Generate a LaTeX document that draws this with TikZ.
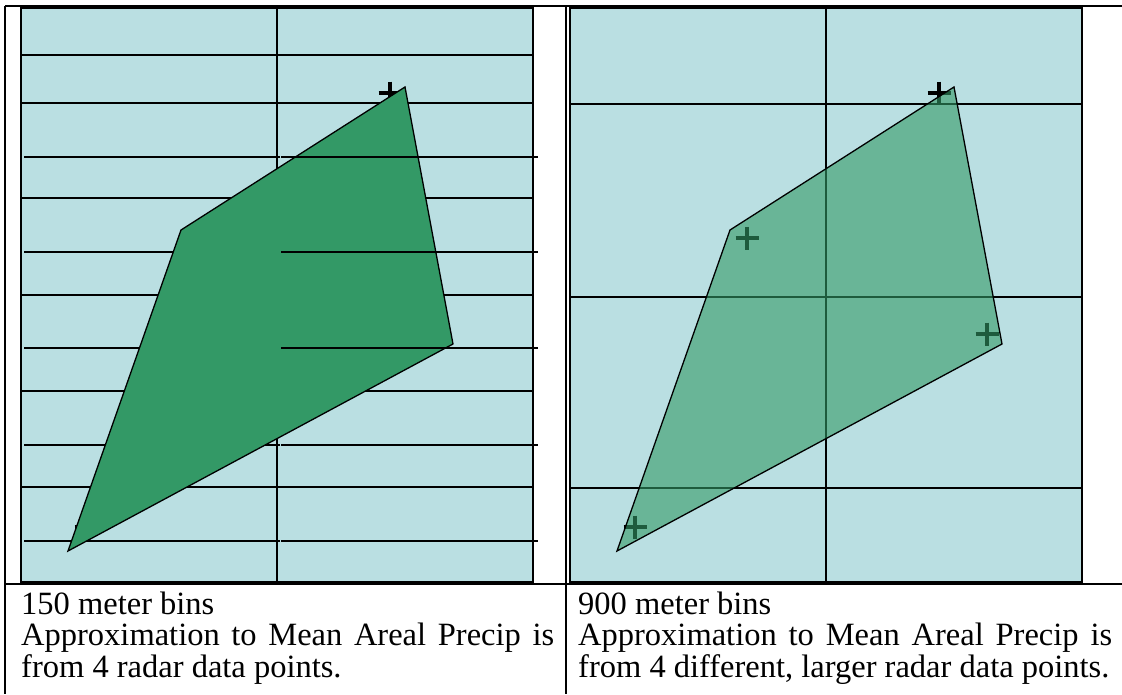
\documentclass[tikz,border=0pt]{standalone}
\usepackage{fontspec}
\setmainfont{Liberation Serif}
\usepackage{tikz}
\usetikzlibrary{positioning}
\definecolor{binblue}{RGB}{186,223,226}
\definecolor{areagreen}{RGB}{51,153,102}

\begin{document}
\begin{tikzpicture}[x=1pt, y=-1pt,
    frame/.style={line width=2pt},
    panel/.style={draw, line width=1.6pt, fill=binblue},
    bin/.style={line width=1.4pt},
    area/.style={draw, line width=1.3pt, fill=areagreen},
    gauge/.style={line width=3.5pt},
    caption/.style={anchor=base west, inner sep=0pt, font=\fontsize{32.5}{31}\selectfont}
]
\useasboundingbox (0,0) rectangle (1122,694);

% Table frame
\draw[frame] (5,6) -- (1122,6);
\draw[frame] (5,584) -- (1122,584);
\draw[frame] (5,6) -- (5,694);
\draw[frame] (566,6) -- (566,694);

% 150 meter bins
\draw[panel] (21,8) rectangle (533,582);
\draw[bin] (277,8) -- (277,582);
\foreach \y in {55,103,198,295,391,487} \draw[bin] (21,\y) -- (533,\y);
\foreach \y in {157,252,348,445,541} \draw[bin] (24,\y) -- (280,\y);
\foreach \x/\y in {390/93,198/238,438/334,86/527}
  \draw[gauge] (\x-11.5,\y) -- (\x+11.5,\y) (\x,\y-11.5) -- (\x,\y+11.5);
\coordinate (fa) at (405,87);
\coordinate (fb) at (453,344);
\coordinate (fc) at (68,551);
\coordinate (fd) at (181,230);
\draw[area] (fa) -- (fb) -- (fc) -- (fd) -- cycle;
\foreach \y in {157,252,348,445,541} \draw[bin] (281,\y) -- (538,\y);

% 900 meter bins
\draw[panel] (570,8) rectangle (1082,582);
\draw[bin] (826,8) -- (826,582);
\foreach \y in {104,297,488} \draw[bin] (570,\y) -- (1082,\y);
\foreach \x/\y in {939/93,747/238,987/334,635/527}
  \draw[gauge] (\x-11.5,\y) -- (\x+11.5,\y) (\x,\y-11.5) -- (\x,\y+11.5);
\coordinate (ca) at (954,87);
\coordinate (cb) at (1002,344);
\coordinate (cc) at (617,551);
\coordinate (cd) at (730,230);
\draw[area, fill opacity=0.6] (ca) -- (cb) -- (cc) -- (cd) -- cycle;

% Captions
\node[caption] (fine1) at (21,614) {150 meter bins};
\node[caption] (fine2) at (21,645.5) {\makebox[533pt][s]{Approximation to Mean Areal Precip is}};
\node[caption] (fine3) at (21,677) {from 4 radar data points.};
\node[caption] (coarse1) at (578,614) {900 meter bins};
\node[caption] (coarse2) at (578,645.5) {\makebox[534pt][s]{Approximation to Mean Areal Precip is}};
\node[caption] (coarse3) at (578,677) {from 4 different, larger radar data points.};

\end{tikzpicture}
\end{document}
